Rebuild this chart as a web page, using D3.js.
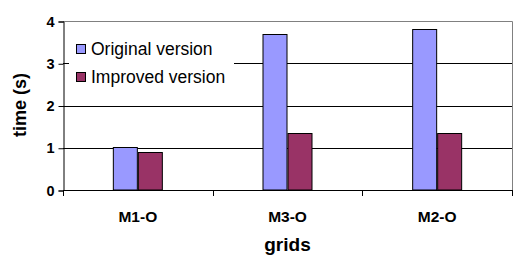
<!DOCTYPE html>
<html>
<script src="https://d3js.org/d3.v7.min.js"></script>
<body style="margin:0;background:#fff">
<div id="chart"></div>
<script>
    var categories = ["M1-O", "M3-O", "M2-O"];
    var seriesNames = ["Original version", "Improved version"];
    var original = [1.02, 3.70, 3.81];
    var improved = [0.90, 1.35, 1.35];
    var yTicks = [0, 1, 2, 3, 4];
    var colors = ["#9999FF", "#993366"];

    var W = 521, H = 274;
    var plotLeft = 63, plotRight = 512, plotTop = 21, plotBottom = 190;

    var svg = d3.select("#chart").append("svg")
        .attr("width", W).attr("height", H)
        .style("font-family", "Arial, 'Liberation Sans', sans-serif");

    var x = d3.scaleBand().domain(categories).range([plotLeft, plotRight]);
    var xInner = d3.scaleBand().domain(seriesNames).range([0, 50]);
    var y = d3.scaleLinear().domain([0, 4]).range([plotBottom, plotTop]);

    // gridlines
    svg.append("g").selectAll("line").data(yTicks.slice(1, 4)).join("line")
        .attr("x1", plotLeft).attr("x2", plotRight)
        .attr("y1", d => Math.round(y(d)) + 0.5).attr("y2", d => Math.round(y(d)) + 0.5)
        .attr("stroke", "#000");

    // frame top/right
    svg.append("path")
        .attr("d", "M" + plotLeft + "," + (plotTop + 0.5) + "H" + (plotRight + 0.5) + "V" + plotBottom)
        .attr("fill", "none").attr("stroke", "#808080");

    // legend background hides gridline
    svg.append("rect").attr("x", 69).attr("y", 32).attr("width", 165).attr("height", 58)
        .attr("fill", "#fff");

    // bars
    var rows = categories.map((c, i) => ({cat: c, vals: [original[i], improved[i]]}));
    var grp = svg.append("g").selectAll("g").data(rows).join("g")
        .attr("transform", d => "translate(" + (x(d.cat) + x.bandwidth() / 2 - 25) + ",0)");
    grp.selectAll("rect").data(d => d.vals.map((v, j) => ({v: v, s: seriesNames[j], j: j}))).join("rect")
        .attr("x", d => xInner(d.s) + 0.5)
        .attr("y", d => Math.round(y(d.v)) + 0.5)
        .attr("width", xInner.bandwidth() - 1)
        .attr("height", d => y(0) - Math.round(y(d.v)) - 0.5)
        .attr("fill", d => colors[d.j])
        .attr("stroke", "#000");

    // y axis
    var yAxis = svg.append("g").attr("transform", "translate(" + (plotLeft + 0.5) + ",0.5)")
        .call(d3.axisLeft(y).tickValues(yTicks).tickSize(5).tickPadding(4).tickFormat(d3.format("d")));
    yAxis.select(".domain").attr("stroke", "#000");
    yAxis.selectAll(".tick line").attr("stroke", "#000");
    yAxis.selectAll("text").attr("font-size", 14.5).attr("font-weight", "bold").attr("fill", "#000")
        .attr("font-family", "Arial, 'Liberation Sans', sans-serif");
    // small inner tick at 3
    svg.append("line").attr("x1", plotLeft).attr("x2", 69)
        .attr("y1", Math.round(y(3)) + 0.5).attr("y2", Math.round(y(3)) + 0.5).attr("stroke", "#000");

    // x axis
    var boundaries = categories.map(c => x(c)).concat([plotRight]);
    svg.append("line").attr("x1", plotLeft).attr("x2", plotRight + 1)
        .attr("y1", plotBottom + 0.5).attr("y2", plotBottom + 0.5).attr("stroke", "#000");
    svg.append("g").selectAll("line").data(boundaries).join("line")
        .attr("x1", d => Math.round(d) + 0.5).attr("x2", d => Math.round(d) + 0.5)
        .attr("y1", plotBottom).attr("y2", plotBottom + 6).attr("stroke", "#000");
    svg.append("g").selectAll("text").data(categories).join("text")
        .attr("x", d => x(d) + x.bandwidth() / 2)
        .attr("y", 222)
        .attr("text-anchor", "middle")
        .attr("font-size", 15.5).attr("font-weight", "bold")
        .text(d => d);

    // axis titles
    svg.append("text").attr("x", (plotLeft + plotRight) / 2).attr("y", 251)
        .attr("text-anchor", "middle").attr("font-size", 19).attr("font-weight", "bold")
        .text("grids");
    svg.append("text").attr("transform", "translate(26,105) rotate(-90)")
        .attr("text-anchor", "middle").attr("font-size", 18).attr("font-weight", "bold")
        .text("time (s)");

    // legend
    var lg = svg.append("g").selectAll("g").data(seriesNames).join("g")
        .attr("transform", (d, i) => "translate(76," + (44 + i * 28) + ")");
    lg.append("rect").attr("x", 0.5).attr("y", 0.5).attr("width", 9).attr("height", 9)
        .attr("fill", (d, i) => colors[i]).attr("stroke", "#000");
    lg.append("text").attr("x", 15).attr("y", 11)
        .attr("font-size", 17.5).text(d => d);
</script>
</body>
</html>
